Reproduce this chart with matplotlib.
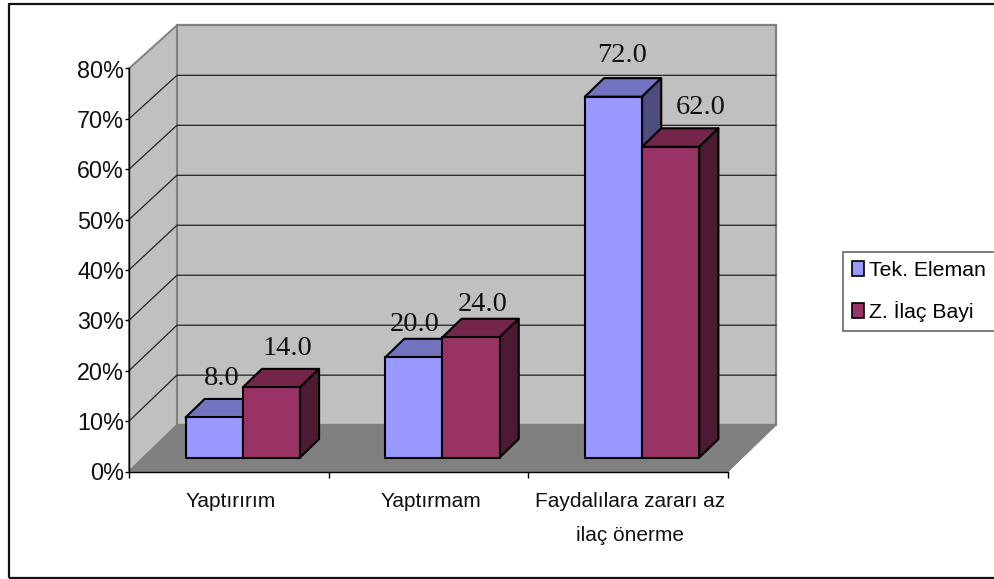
import matplotlib
matplotlib.use("Agg")
import matplotlib.pyplot as plt
from matplotlib.patches import Patch, Polygon, Rectangle
from matplotlib.transforms import ScaledTranslation

W, H = 995, 579

categories = ["Yaptırırım", "Yaptırmam", "Faydalılara zararı az\nilaç önerme"]
series_names = ["Tek. Eleman", "Z. İlaç Bayi"]
tek_eleman = [8.0, 20.0, 72.0]
ilac_bayi = [14.0, 24.0, 62.0]
y_ticks = [0, 10, 20, 30, 40, 50, 60, 70, 80]

# renkler: on, ust, yan
BLUE = ("#9999FF", "#7373BF", "#4D4D80")
PLUM = ("#993366", "#732649", "#4D1A33")
WALL = "#C0C0C0"
FLOOR = "#808080"

# derinlik kaymasi (veri birimi)
DX = 0.24
DY = 9.2
BACK_SCALE = 0.992  # arka duvar biraz daha kisa
BAR_SCALE = 0.995
BAR_W = 0.2865
BAR_START = 0.211
D0, D1 = 0.3, 0.7

# etiket kaymalari (punto), orijinalde sabit degil
BLUE_LABEL_OFF = [(-8.5, 10), (-12.8, 5.7), (-7.8, 11.4)]
PLUM_LABEL_OFF = [(-2, 10), (-5.6, 5.7), (8, 10.5)]


def shift(x, y, d):
    return (x + d * DX, y + d * DY)


def back(v):
    return v * BACK_SCALE + DY


def draw_box(ax, x0, x1, top, colors):
    a, b = shift(x0, 0, D0), shift(x1, 0, D0)
    c, d = shift(x1, top, D0), shift(x0, top, D0)
    e, f = shift(x1, top, D1), shift(x0, top, D1)
    g = shift(x1, 0, D1)
    style = dict(edgecolor="black", linewidth=1.5, joinstyle="round", clip_on=False, zorder=5)
    ax.add_patch(Polygon([d, c, e, f], facecolor=colors[1], **style))
    ax.add_patch(Polygon([b, g, e, c], facecolor=colors[2], **style))
    ax.add_patch(Polygon([a, b, c, d], facecolor=colors[0], **style))


plt.rcParams["font.family"] = ["Liberation Sans", "DejaVu Sans"]
fig = plt.figure(figsize=(W / 100, H / 100), dpi=100)
ax = fig.add_axes([129 / W, 1 - 471.5 / H, 599 / W, 403 / H])
ax.set_xlim(0, 3)
ax.set_ylim(0, 80)
ax.patch.set_visible(False)

# dis cerceve
fig.add_artist(Rectangle((9 / W, 1 / H), 1.2, 574 / H, transform=fig.transFigure,
                         facecolor="none", edgecolor="#111111", linewidth=1.6))

# duvarlar ve taban
ax.add_patch(Polygon([(DX, back(0)), (3 + DX, back(0)), (3 + DX, back(80)), (DX, back(80))],
                     facecolor=WALL, edgecolor=FLOOR, linewidth=1.6, clip_on=False, zorder=1))
ax.add_patch(Polygon([(0, 0), (DX, back(0)), (DX, back(80)), (0, 80)],
                     facecolor=WALL, edgecolor=FLOOR, linewidth=1.4, clip_on=False, zorder=1))
ax.add_patch(Polygon([(0, 0), (3, 0), (3 + DX, back(0)), (DX, back(0))],
                     facecolor=FLOOR, edgecolor=FLOOR, linewidth=0.8, clip_on=False, zorder=2))

for v in y_ticks[1:-1]:
    ax.plot([0, DX, 3 + DX], [v, back(v), back(v)], color="#222222", linewidth=0.9,
            clip_on=False, zorder=3)

for i in range(len(categories)):
    x0 = i + BAR_START
    top1 = tek_eleman[i] * BAR_SCALE
    top2 = ilac_bayi[i] * BAR_SCALE
    draw_box(ax, x0, x0 + BAR_W, top1, BLUE)
    draw_box(ax, x0 + BAR_W, x0 + 2 * BAR_W, top2, PLUM)
    for x, top, val, off in ((x0, top1, tek_eleman[i], BLUE_LABEL_OFF[i]),
                             (x0 + BAR_W, top2, ilac_bayi[i], PLUM_LABEL_OFF[i])):
        px, py = shift(x + BAR_W / 2, top, D1)
        ax.annotate("%.1f" % val, (px, py), xytext=off, textcoords="offset points",
                    ha="center", va="baseline", fontsize=20.5, family="Liberation Serif",
                    color="#111111", zorder=6, annotation_clip=False)

# eksenler
ax.spines["top"].set_visible(False)
ax.spines["right"].set_visible(False)
for s in ("left", "bottom"):
    ax.spines[s].set_linewidth(1.0)
    ax.spines[s].set_zorder(4)

ax.set_yticks(y_ticks)
ax.set_yticklabels(["%d%%" % v for v in y_ticks], fontsize=16.8, color="#111111")
ax.tick_params(axis="y", length=3, width=1, pad=0.5)

ax.set_xticks([0, 1, 2, 3])
ax.set_xticklabels([])
ax.set_xticks([0.5, 1.5, 2.5], minor=True)
ax.set_xticklabels(categories, minor=True, fontsize=15, color="#111111", linespacing=2.0)
ax.tick_params(axis="x", which="major", length=4, width=1)
ax.tick_params(axis="x", which="minor", length=0, pad=15)
nudge = ScaledTranslation(1.5 / 72, 0, fig.dpi_scale_trans)
for lab in ax.get_xticklabels(minor=True):
    lab.set_transform(lab.get_transform() + nudge)

# lejant
handles = [Patch(facecolor=BLUE[0], edgecolor="black", linewidth=1.2),
           Patch(facecolor=PLUM[0], edgecolor="black", linewidth=1.2)]
leg = fig.legend(handles, series_names, loc="center left", bbox_to_anchor=(843 / W, 1 - 291.5 / H),
                 fontsize=15.3, frameon=True, fancybox=False, edgecolor="#666666", framealpha=1,
                 handlelength=0.55, handleheight=0.7, handletextpad=0.25, labelspacing=1.02,
                 borderpad=0.42, borderaxespad=0)
leg.get_frame().set_linewidth(1.2)

fig.savefig("out.png", dpi=100)
